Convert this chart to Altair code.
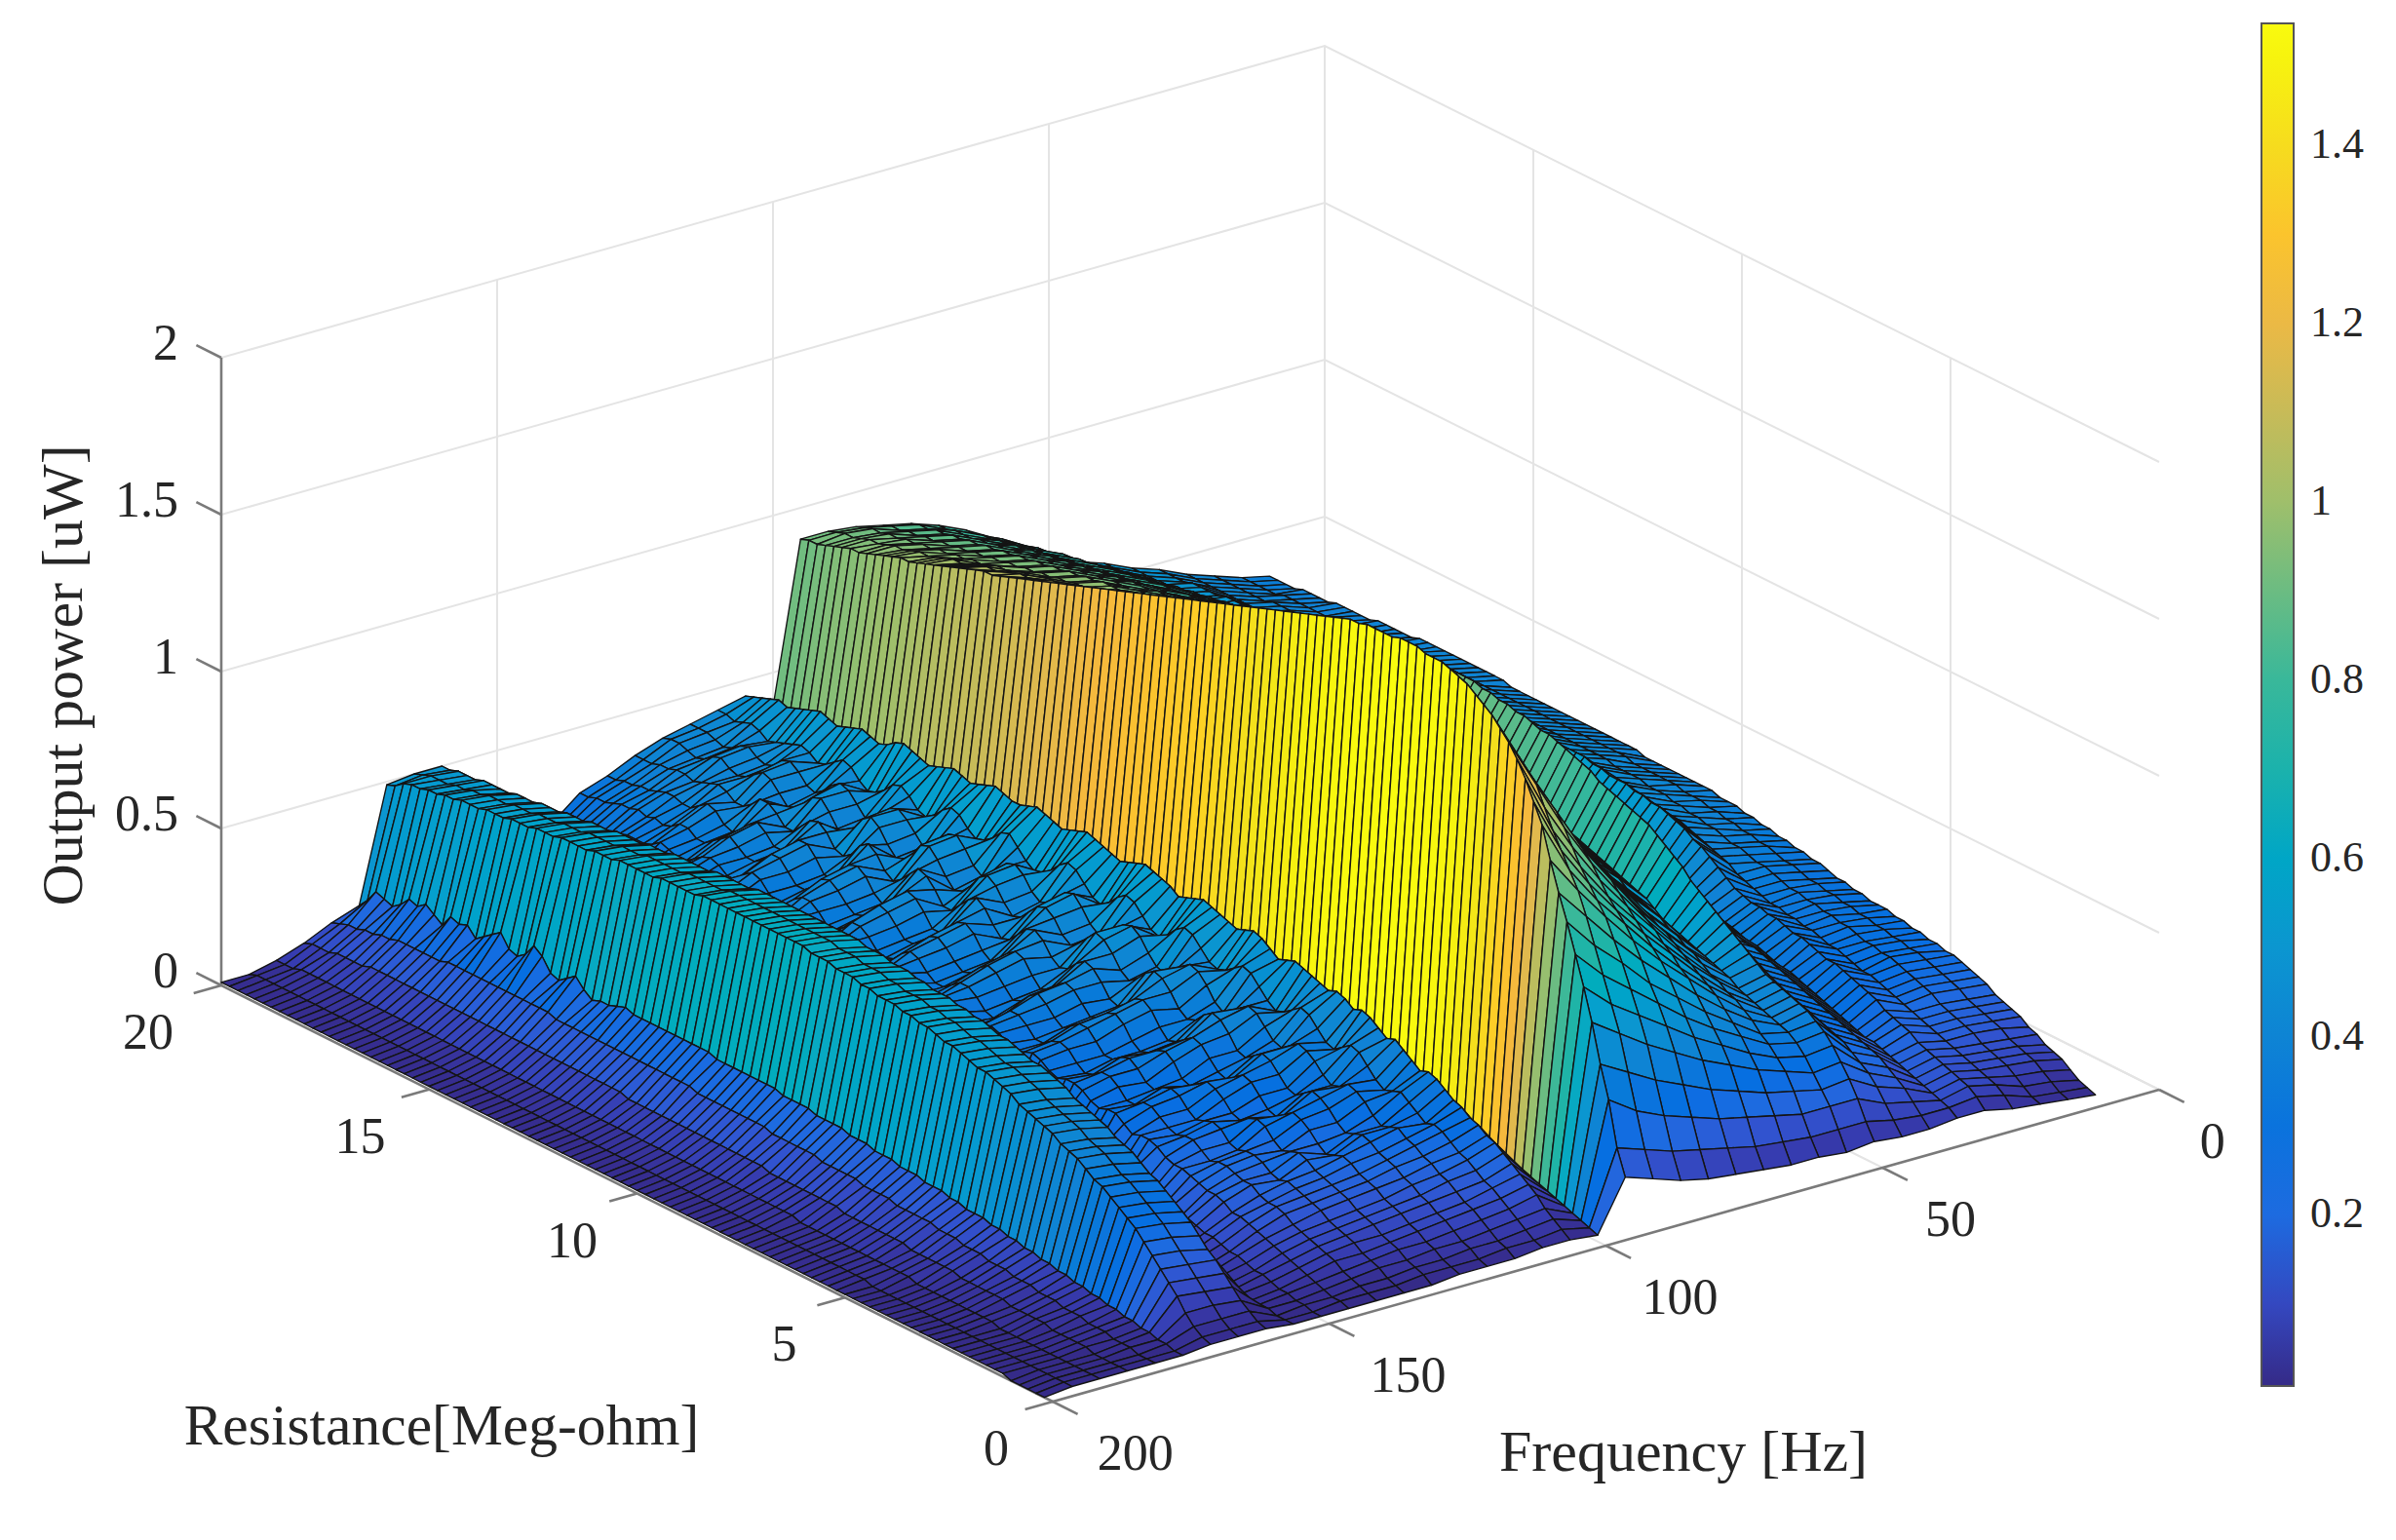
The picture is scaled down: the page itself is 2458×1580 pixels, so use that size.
import altair as alt
import numpy as np
import pandas as pd

alt.data_transformers.disable_max_rows()

# ---- axis values
R_VALUES = [round(0.2*k, 1) for k in range(1, 101)]
F_VALUES = list(range(10, 205, 5))
R_TICKS = [0, 5, 10, 15, 20]
F_TICKS = [0, 50, 100, 150, 200]
Z_TICKS = [0, 0.5, 1, 1.5, 2]
COLORBAR_TICKS = [0.2, 0.4, 0.6, 0.8, 1.0, 1.2, 1.4]

# ---- output power, in hundredths of a microwatt, one list per frequency
P010 = [2,3,4,6,8,9,10,12,13,15, 16,17,18,20,21,22,23,24,24,25, 25,26,26,27,27,28,28,28,29,29, 30,30,31,32,32,33,33,34,34,35, 35,36,36,37,37,37,38,38,38,38, 38,38,38,38,38,39,39,39,39,39, 39,39,39,39,39,39,39,39,39,39, 39,40,40,40,40,40,40,40,40,40, 40,40,39,39,39,39,39,38,38,38, 38,38,37,37,37,37,36,36,36,36]
P015 = [3,4,6,8,10,11,12,13,15,16, 17,18,19,21,22,23,24,25,26,26, 27,27,28,28,29,29,30,30,31,31, 32,32,33,34,34,35,36,36,37,37, 38,38,39,39,40,40,40,41,41,41, 41,41,41,42,42,42,42,42,42,42, 42,42,42,42,42,42,42,42,42,42, 42,42,42,42,42,42,42,42,42,41, 41,41,41,41,40,40,40,40,40,39, 39,39,39,39,39,38,38,38,38,38]
P020 = [4,5,7,9,11,12,13,14,16,17, 18,19,20,22,23,24,25,26,27,27, 28,28,29,30,30,31,31,32,32,33, 33,34,35,36,36,37,38,38,39,40, 40,41,41,42,42,43,43,43,44,44, 44,44,45,45,45,45,45,45,45,45, 45,45,45,45,45,45,45,45,45,45, 45,45,45,45,44,44,44,44,44,44, 44,43,43,43,43,43,42,42,42,42, 42,42,42,41,41,41,41,41,41,41]
P025 = [5,8,10,11,12,13,14,15,16,17, 18,19,20,21,22,23,24,25,25,26, 27,28,28,29,30,30,31,31,32,32, 33,34,35,36,38,39,40,41,42,43, 44,44,45,45,46,46,47,47,47,48, 48,48,48,48,48,49,49,49,49,49, 49,49,49,49,49,49,48,48,48,48, 48,48,48,48,47,47,47,47,47,46, 46,46,46,46,45,45,45,45,45,44, 44,44,44,44,44,44,44,44,44,44]
P030 = [7,10,12,13,14,15,16,17,18,20, 21,22,23,25,26,27,28,29,30,30, 31,32,33,33,34,35,35,36,36,37, 38,40,42,44,46,47,49,50,51,52, 52,53,53,54,54,54,55,55,56,56, 56,56,56,56,56,57,57,57,57,57, 57,57,57,57,56,56,56,56,56,56, 56,56,55,55,55,55,54,54,54,53, 53,53,52,52,52,51,51,51,50,50, 50,50,49,49,49,49,48,48,48,48]
P035 = [7,9,10,11,12,13,14,15,16,17, 18,18,19,20,21,22,23,24,25,26, 27,27,28,29,30,30,31,32,32,33, 34,35,36,37,38,38,39,40,41,42, 43,43,44,44,45,45,46,46,47,47, 47,48,48,48,48,49,49,49,49,50, 50,50,50,50,50,50,50,50,50,50, 50,50,50,50,50,50,50,50,50,50, 50,50,51,51,51,51,51,51,51,51, 51,51,51,51,51,51,51,51,51,51]
P040 = [6,9,12,15,17,19,21,22,23,24, 25,26,27,28,29,30,31,32,33,34, 35,36,36,37,38,39,40,41,42,42, 43,44,45,46,46,47,48,49,50,51, 52,53,54,54,55,56,57,58,58,59, 60,60,60,61,61,61,62,62,62,62, 62,62,62,62,62,62,62,62,62,62, 62,62,61,61,61,61,61,60,60,60, 60,60,60,59,59,59,59,58,58,58, 58,57,57,57,56,56,56,55,55,55]
P045 = [6,10,14,18,21,23,25,27,28,29, 30,31,32,33,34,35,36,37,38,39, 40,41,42,43,44,45,46,47,48,49, 50,51,52,53,54,55,56,57,58,59, 60,61,62,63,64,65,66,67,68,68, 69,70,70,71,71,72,72,73,73,74, 74,75,75,76,76,76,76,76,75,75, 75,74,73,73,72,71,71,70,70,70, 69,69,68,68,67,67,66,66,65,65, 64,64,63,62,62,61,60,60,59,58]
P050 = [7,12,18,23,27,31,34,36,38,39, 40,41,42,43,45,47,49,51,53,55, 57,59,61,64,66,68,70,72,73,74, 75,76,77,78,80,81,82,83,84,85, 85,86,87,87,88,88,89,89,90,90, 90,90,90,90,90,90,90,90,90,90, 89,89,88,87,86,85,84,83,83,82, 81,80,79,78,78,77,76,76,75,74, 74,73,73,72,72,71,71,70,70,69, 69,68,67,67,66,65,65,64,63,62]
P055 = [6,12,18,22,26,30,33,35,36,37, 38,39,40,41,43,44,45,46,47,48, 49,50,51,53,55,56,57,58,59,60, 61,62,63,64,65,66,67,68,69,70, 71,72,73,74,75,75,76,77,77,78, 78,79,79,79,79,80,80,80,80,80, 80,80,80,80,80,80,80,80,80,80, 80,80,80,80,80,80,79,79,79,79, 78,78,78,77,77,76,76,75,75,74, 74,73,73,72,72,71,70,70,69,68]
P060 = [7,12,18,24,29,32,35,37,40,42, 44,45,47,48,50,52,53,55,56,58, 59,60,61,62,64,65,66,67,68,69, 70,71,72,73,75,76,77,78,79,80, 81,81,82,82,83,83,84,84,85,85, 85,85,85,86,86,86,86,86,86,86, 86,86,86,86,86,86,86,86,86,85, 85,85,85,85,85,84,84,84,83,83, 83,82,82,81,81,80,80,79,79,78, 78,77,77,76,76,75,75,74,74,73]
P065 = [7,13,20,26,32,36,40,43,46,49, 51,53,55,57,59,61,62,64,65,67, 68,69,70,71,72,73,74,74,75,76, 76,77,78,79,80,81,82,83,84,85, 85,86,87,88,88,89,90,91,91,92, 92,92,92,92,92,92,92,92,92,92, 92,92,92,92,92,91,91,91,91,91, 91,90,90,90,89,89,89,88,88,88, 87,87,86,86,85,85,84,84,83,83, 82,82,81,81,80,80,79,79,78,78]
P070 = [8,14,22,29,36,41,45,49,53,57, 59,62,64,67,69,71,73,75,76,78, 79,80,81,82,83,84,85,85,86,86, 87,87,88,88,89,90,90,91,91,92, 92,93,93,94,94,95,96,96,97,98, 98,98,98,98,98,98,98,98,97,97, 97,97,97,97,96,96,96,96,95,95, 95,94,94,94,93,93,92,92,92,91, 91,90,90,89,89,88,88,87,87,86, 86,85,85,84,84,83,83,83,82,82]
P075 = [9,16,24,32,40,46,51,56,61,65, 68,71,74,77,80,83,85,87,88,89, 90,91,92,93,94,95,95,96,96,97, 97,98,98,99,99,100,100,101,101,101, 102,102,102,103,103,104,104,104,105,105, 105,105,105,105,104,104,104,103,103,103, 102,102,102,101,101,101,100,100,100,99, 99,99,98,98,97,97,97,96,96,95, 95,94,94,93,93,92,92,91,91,90, 90,89,89,88,88,87,87,86,86,85]
P080 = [10,18,27,36,45,52,58,63,69,74, 78,81,84,88,92,95,97,99,101,102, 103,104,105,106,107,108,108,108,109,109, 109,109,110,110,110,110,111,111,111,111, 111,111,112,112,112,112,112,112,112,112, 111,111,111,110,110,110,109,109,108,108, 107,107,106,106,105,104,104,103,103,102, 102,101,101,100,100,99,99,98,98,97, 97,96,96,95,95,94,94,93,93,92, 92,91,91,90,90,89,89,88,88,87]
P085 = [12,20,30,40,50,58,65,72,78,84, 88,92,96,101,106,110,112,114,116,118, 119,120,121,122,122,123,123,123,123,123, 123,123,123,123,123,123,122,122,122,122, 122,122,121,121,121,121,120,120,120,120, 119,119,118,118,117,117,116,116,115,115, 114,113,113,112,111,110,110,109,108,108, 107,106,106,105,104,103,103,102,101,101, 100,99,99,98,97,97,96,96,95,95, 94,94,93,93,92,92,91,91,90,89]
P090 = [15,23,34,45,56,64,72,80,88,95, 100,105,110,116,122,125,128,130,132,134, 135,136,137,138,138,138,138,138,138,137, 137,136,136,135,135,134,134,133,133,132, 132,131,131,130,130,129,129,128,128,128, 127,126,126,125,124,124,123,122,122,121, 120,119,118,118,117,116,115,114,113,112, 111,110,110,109,108,107,107,106,105,104, 104,103,102,101,101,100,99,98,98,97, 96,96,95,94,94,93,92,92,91,90]
P095 = [18,26,40,50,62,72,81,90,98,107, 117,123,129,134,138,141,144,146,148,150, 151,152,153,153,153,154,154,154,153,153, 153,153,152,152,151,150,149,148,147,146, 145,144,143,142,141,140,139,138,137,136, 135,134,133,132,131,130,129,128,127,126, 125,124,123,122,121,120,119,118,117,116, 115,114,113,112,111,110,109,109,108,107, 106,105,104,103,102,101,100,100,99,98, 97,96,95,95,94,93,92,91,91,90]
P100 = [2,3,4,5,6,7,8,9,10,11, 12,13,14,15,16,17,18,19,20,21, 22,23,23,24,25,26,26,27,28,28, 29,29,30,30,31,31,32,32,33,33, 34,34,35,35,35,36,36,36,37,37, 37,37,38,38,38,38,38,39,39,39, 39,39,39,39,39,39,39,39,39,39, 39,39,39,39,39,39,39,39,39,39, 39,39,39,39,39,39,39,39,39,39, 39,39,39,39,39,39,39,39,39,39]
P105 = [3,5,7,9,12,14,16,18,20,22, 23,25,26,28,29,31,33,34,33,35, 37,39,38,40,42,43,42,44,45,44, 45,46,47,48,47,46,48,50,51,50, 49,50,51,52,53,52,51,50,52,53, 54,55,54,53,52,53,54,55,56,55, 54,53,54,55,56,55,54,54,55,56, 55,54,53,54,55,54,53,52,53,54, 55,54,52,51,52,53,52,51,50,51, 52,51,50,49,48,49,48,47,46,45]
P110 = [3,4,6,8,10,12,14,15,17,19, 20,22,24,25,24,26,28,30,29,28, 30,33,36,37,35,33,34,37,40,41, 39,37,36,38,41,44,45,43,41,40, 41,44,47,48,46,43,41,42,45,48, 49,47,44,42,43,46,49,50,48,45, 43,42,44,47,50,49,46,44,43,45, 48,49,47,44,42,43,46,48,47,44, 42,41,43,46,47,45,43,42,44,45, 44,43,42,41,43,44,43,42,43,43]
P115 = [2,4,5,7,9,11,12,14,16,17, 19,20,22,23,25,24,23,25,28,30, 31,29,28,30,33,35,36,34,32,33, 36,39,40,38,35,34,36,40,43,44, 42,39,37,38,41,45,47,46,43,40, 39,41,45,48,47,44,41,40,42,46, 48,47,44,41,39,41,45,48,47,43, 40,39,42,45,47,46,43,40,39,42, 45,46,44,41,39,40,43,45,44,41, 40,41,43,42,40,39,40,41,41,41]
P120 = [2,3,5,6,8,10,11,13,14,16, 17,19,20,21,23,24,23,22,24,27, 29,30,28,26,27,30,33,34,32,30, 31,35,38,39,37,34,33,35,39,42, 43,41,38,36,38,42,45,46,43,40, 38,40,44,46,45,42,39,38,41,45, 47,45,41,38,37,40,44,47,46,42, 39,38,41,45,47,45,41,38,38,42, 45,44,41,38,37,40,43,44,42,40, 39,40,42,41,39,38,39,40,40,39]
P125 = [2,3,4,6,7,9,10,12,13,14, 16,17,18,20,21,20,19,21,24,26, 27,25,23,24,27,30,31,29,27,28, 31,34,35,33,31,30,33,37,39,38, 35,33,34,38,41,42,40,37,36,38, 42,44,43,40,37,36,39,43,45,43, 40,37,37,41,44,45,42,39,37,39, 43,45,43,39,37,38,42,44,43,40, 37,37,40,42,42,39,37,37,39,40, 39,38,37,38,38,37,37,36,36,36]
P130 = [1,3,4,5,7,8,9,11,12,13, 15,16,17,18,19,21,22,21,20,22, 25,26,25,23,24,27,29,30,28,26, 27,31,33,32,30,29,31,35,37,36, 33,32,35,38,39,37,34,33,36,40, 41,39,36,34,36,40,42,41,38,35, 35,39,42,43,40,37,35,37,41,43, 42,38,35,35,39,42,42,39,36,36, 39,41,39,36,34,35,38,39,37,35, 35,36,36,35,34,34,33,33,32,32]
P135 = [1,2,3,5,6,7,9,10,11,12, 14,15,16,17,18,17,18,20,21,21, 20,21,24,25,24,23,25,28,29,28, 26,27,30,32,31,29,29,32,35,35, 33,31,33,36,38,36,33,32,35,38, 39,37,34,33,35,38,40,39,36,34, 34,37,40,41,38,35,34,36,39,41, 40,36,34,34,37,40,40,37,35,35, 37,39,37,35,33,33,35,35,33,32, 33,32,33,32,32,31,30,30,29,29]
P140 = [1,2,3,4,5,7,8,9,10,11, 12,14,15,15,16,18,18,19,20,20, 19,21,23,23,22,23,25,27,27,25, 25,28,30,30,28,27,29,32,33,32, 30,30,33,35,35,32,30,31,34,36, 36,34,32,32,34,37,38,36,33,32, 33,36,38,38,35,33,33,36,38,38, 36,33,32,34,37,38,36,33,33,35, 36,35,33,31,31,32,33,31,30,30, 30,29,28,27,27,26,25,24,23,22]
P145 = [1,2,2,3,4,5,6,7,8,9, 10,11,12,13,13,15,16,16,17,18, 19,19,20,22,23,23,22,24,26,26, 25,26,28,29,29,28,29,31,32,31, 30,31,33,34,33,31,31,33,35,35, 33,32,32,34,36,36,34,33,33,35, 36,36,34,33,33,35,37,36,34,33, 34,36,36,34,33,34,36,35,33,32, 33,33,31,30,29,28,27,26,25,24, 24,24,23,23,22,21,20,19,18,17]
P150 = [1,1,2,2,3,3,4,5,5,6, 7,7,8,9,9,10,11,10,12,11, 12,11,12,16,12,12,13,17,13,13, 13,14,19,14,13,14,14,20,14,14, 15,21,15,14,15,15,22,15,14,15, 16,15,15,23,16,15,15,16,22,15, 15,16,15,15,24,16,15,16,15,21, 15,16,15,22,16,15,15,16,23,16, 15,15,17,22,16,15,15,20,15,15, 14,17,14,14,16,14,13,13,13,12]
P155 = [1,1,1,2,2,2,3,3,3,4, 4,4,5,5,5,6,6,6,7,7, 7,7,8,8,8,9,9,9,10,10, 10,10,10,11,11,11,11,12,12,12, 12,12,12,12,13,13,13,13,13,13, 13,13,13,13,13,13,13,13,13,13, 13,13,13,13,13,13,13,13,13,13, 13,13,13,13,13,13,13,13,13,13, 13,13,13,13,13,12,12,12,12,12, 12,12,12,11,11,11,11,10,10,10]
P160 = [2,3,5,7,10,13,16,18,21,24, 26,28,30,32,33,35,37,38,39,41, 42,43,44,45,47,48,49,50,50,51, 52,53,53,54,55,55,56,56,57,57, 57,58,58,59,59,59,60,60,60,61, 61,61,61,61,61,61,61,61,61,61, 61,61,60,60,60,60,60,59,59,59, 59,59,58,58,58,57,57,57,57,56, 56,56,55,55,55,54,54,54,53,53, 53,52,52,52,52,51,51,51,50,50]
P165 = [2,3,5,8,11,14,17,20,23,26, 28,30,32,34,35,37,39,40,41,43, 44,45,46,47,49,50,51,52,52,53, 54,55,55,56,57,57,58,58,59,59, 59,60,60,61,61,61,62,62,62,63, 63,63,63,63,63,63,63,63,63,63, 63,63,62,62,62,62,62,61,61,61, 61,61,60,60,60,59,59,59,59,58, 58,58,57,57,57,56,56,56,55,55, 55,54,54,53,53,52,52,52,51,50]
P170 = [2,3,5,8,12,15,18,21,24,27, 29,31,33,35,36,38,40,41,42,44, 45,46,47,48,50,51,52,53,53,54, 55,56,56,57,58,58,59,59,60,60, 60,61,61,62,62,62,63,63,63,64, 64,64,64,64,64,64,64,64,64,64, 64,64,63,63,63,63,63,62,62,62, 62,62,61,61,61,60,60,60,60,59, 59,59,58,58,58,57,57,57,56,56, 56,55,55,54,54,53,53,52,50,49]
P175 = [1,1,2,2,3,3,4,4,5,5, 6,6,7,7,8,8,9,9,10,10, 11,11,12,12,13,13,13,14,14,15, 15,15,16,16,16,17,17,17,18,18, 18,19,19,19,19,20,20,20,20,21, 21,21,21,21,21,21,21,22,22,22, 22,22,22,22,22,22,22,23,22,21, 21,20,22,25,23,21,22,26,28,24, 22,23,27,25,23,21,24,23,24,20, 22,24,22,23,20,18,19,20,16,13]
P180 = [1,1,1,2,2,2,3,3,3,4, 4,4,5,5,5,6,6,6,7,7, 7,8,8,8,9,9,9,10,10,10, 10,10,11,11,11,11,12,12,12,12, 12,13,13,13,13,13,13,14,14,14, 14,14,14,14,14,14,15,15,15,15, 15,15,15,15,15,15,15,15,15,15, 15,15,15,16,16,16,16,16,16,16, 16,16,16,16,16,16,15,15,15,15, 15,15,14,14,13,13,12,12,11,10]
P185 = [1,1,1,1,1,2,2,2,2,2, 3,3,3,3,3,4,4,4,4,4, 4,5,5,5,5,5,5,6,6,6, 6,6,6,6,6,7,7,7,7,7, 7,7,7,7,8,8,8,8,8,8, 8,8,8,8,8,8,8,8,8,8, 8,9,9,9,9,9,9,9,9,9, 9,9,9,9,9,9,9,9,9,9, 9,9,9,9,9,9,9,9,9,9, 9,9,8,8,8,8,7,7,7,6]
P190 = [1,1,1,1,1,1,1,1,1,1, 1,1,1,2,2,2,2,2,2,2, 2,2,2,3,3,3,3,3,3,3, 3,3,3,3,3,3,3,4,4,4, 4,4,4,4,4,4,4,4,4,4, 4,4,4,4,4,4,4,4,4,4, 4,4,4,4,4,4,4,4,4,4, 4,4,4,4,4,4,4,4,4,4, 4,4,4,4,4,4,4,4,4,4, 4,4,4,4,4,4,4,3,3,3]
P195 = [1,1,1,1,1,1,1,1,1,1, 1,1,1,1,1,1,1,1,1,1, 1,1,1,1,1,2,2,2,2,2, 2,2,2,2,2,2,2,2,2,2, 2,2,2,2,2,2,2,2,2,2, 2,2,2,2,2,2,2,2,2,2, 2,2,2,2,2,2,2,2,2,2, 2,2,2,2,2,2,2,2,2,2, 2,2,2,2,2,2,2,2,2,2, 2,2,2,2,2,2,2,2,2,1]
P200 = [0,0,0,0,0,1,1,1,1,1, 1,1,1,1,1,1,1,1,1,1, 1,1,1,1,1,1,1,1,1,1, 1,1,1,1,1,1,1,1,1,1, 1,1,1,1,1,1,1,1,1,1, 1,1,1,1,1,1,1,1,1,1, 1,1,1,1,1,1,1,1,1,1, 1,1,1,1,1,1,1,1,1,1, 1,1,1,1,1,1,1,1,1,1, 1,1,1,1,1,1,1,1,1,1]
ROWS = [P010,P015,P020,P025,P030,P035,P040,P045,P050,P055,P060,P065,P070,P075,P080,P085,P090,P095,P100,P105,
        P110,P115,P120,P125,P130,P135,P140,P145,P150,P155,P160,P165,P170,P175,P180,P185,P190,P195,P200]

PARULA = ["#352a87","#363cb0","#3153cf","#1f6ae0","#066ee2","#0d75dc","#1181d5","#1089d2","#0c96d0","#06a0cd","#07a9c2",
          "#19b1b0","#25b5a2","#3ab89a","#55bb8c","#7abd7c","#9abf6e","#b3bd63","#cbbb57","#e1b94d","#f5b93d","#fbc22e",
          "#fed025","#f3e01c","#f6f00f","#f9fb0e"]
C_MIN, C_MAX = 0.008, 1.537

# ---- view: where the axis box corners fall on the page (no perspective: 1 uW is the same height everywhere)
PC, PD, PA, PB = np.array((2215,1118.)), np.array((1359,691.)), np.array((227,1011.)), np.array((1080,1438.))
PIXELS_PER_UW = 322.0

def project(R, F, Z):
    r, f = R/20, F/200
    p = (1-r)*(1-f)*PC + r*(1-f)*PD + r*f*PA + (1-r)*f*PB
    return round(float(p[0]), 1), round(float(p[1] - Z*PIXELS_PER_UW), 1)

# ---- surface cells, far to near
Zg = np.zeros((len(F_VALUES), len(R_VALUES)))
for j, row in enumerate(ROWS):
    row = (row + [row[-1]]*len(R_VALUES))[:len(R_VALUES)]
    Zg[j] = np.array(row)/100.0

recs = []
cell = 0
for j in range(len(F_VALUES)-1):
    for i in range(len(R_VALUES)-2, -1, -1):
        c = Zg[j, i]
        for k, (jj, ii) in enumerate([(j,i),(j,i+1),(j+1,i+1),(j+1,i)]):
            x, y = project(R_VALUES[ii], F_VALUES[jj], Zg[jj, ii])
            recs.append(dict(cell=cell, k=k, x=x, y=y, c=round(float(c), 3)))
        cell += 1
surf = pd.DataFrame(recs)

# ---- grid, axes, ticks
def seg_rows(store, name, pts):
    gid = len(store)
    for k, (R, F, Z) in enumerate(pts):
        x, y = project(R, F, Z)
        store.append(dict(id=f"{name}{gid}", k=k, x=x, y=y))

grid = []
for z in Z_TICKS:
    seg_rows(grid, "z", [(20,200,z),(20,0,z),(0,0,z)])
for f in F_TICKS[:-1]:
    seg_rows(grid, "f", [(0,f,0),(20,f,0),(20,f,2)])
for r in R_TICKS[1:]:
    seg_rows(grid, "r", [(r,200,0),(r,0,0),(r,0,2)])
grid = pd.DataFrame(grid)

axes = []
seg_rows(axes, "a", [(20,200,2),(20,200,0),(0,200,0),(0,0,0)])
for z in Z_TICKS:
    seg_rows(axes, "tz", [(20,200,z),(20.6,200,z)])
for r in R_TICKS:
    seg_rows(axes, "tr", [(r,200,0),(r,205,0)])
for f in F_TICKS:
    seg_rows(axes, "tf", [(0,f,0),(-0.6,f,0)])
axes = pd.DataFrame(axes)

zl = pd.DataFrame([dict(x=project(20,200,z)[0], y=project(20,200,z)[1], t=f"{z:g}") for z in Z_TICKS])
rl = pd.DataFrame([dict(x=project(r,200,0)[0]-75+17*(1-r/20), y=project(r,200,0)[1]+49, t=f"{r:g}") for r in R_TICKS])
fl = pd.DataFrame([dict(x=project(0,f,0)[0]+(35+19*(f/200)**0.5)*1.5676, y=project(0,f,0)[1]+54, t=f"{f:g}") for f in F_TICKS])

xs = alt.Scale(domain=[8, 2448])
ys = alt.Scale(domain=[1568, 8])
X = alt.X("x:Q", scale=xs, axis=None)
Y = alt.Y("y:Q", scale=ys, axis=None)

grid_l = alt.Chart(grid).mark_line(color="#e4e4e4", strokeWidth=2).encode(X, Y, detail="id:N", order="k:Q")
axes_l = alt.Chart(axes).mark_line(color="#7a7a7a", strokeWidth=2.6).encode(X, Y, detail="id:N", order="k:Q")

domain = [C_MIN + (C_MAX-C_MIN)*i/(len(PARULA)-1) for i in range(len(PARULA))]
surf_l = alt.Chart(surf).mark_line(stroke="#141414", strokeWidth=1.4, interpolate="linear-closed", strokeJoin="round").encode(
    X, Y, detail="cell:N", order="k:Q",
    fill=alt.Fill("c:Q", scale=alt.Scale(domain=domain, range=PARULA), legend=alt.Legend(
        orient="none", legendX=2312, legendY=16, title=None, direction="vertical",
        gradientLength=1398, gradientThickness=33, gradientStrokeColor="#555555", gradientStrokeWidth=2,
        values=COLORBAR_TICKS, labelFont="Liberation Serif", labelFontSize=44, labelColor="#262626",
        labelOffset=17, labelOverlap=False, labelExpr="datum.value==1?'1':format(datum.value,'.1f')")))

TXT = dict(font="Liberation Serif", color="#262626")
z_t = alt.Chart(zl).mark_text(align="right", baseline="middle", fontSize=52, dx=-44, dy=-14, **TXT).encode(X, Y, text="t:N")
r_t = alt.Chart(rl).mark_text(align="center", baseline="middle", fontSize=52, **TXT).encode(X, Y, text="t:N")
f_t = alt.Chart(fl).mark_text(align="center", baseline="middle", fontSize=52, **TXT).encode(X, Y, text="t:N")

titles = pd.DataFrame([dict(x=453, y=1464, t="Resistance[Meg-ohm]", a=0, s=59.5),
                       dict(x=1727, y=1491, t="Frequency [Hz]", a=0, s=60)])
t1 = alt.Chart(titles).mark_text(align="center", baseline="middle", **TXT).encode(
    X, Y, text="t:N", size=alt.Size("s:Q", scale=None, legend=None))
t2 = alt.Chart(pd.DataFrame([dict(x=66, y=693, t="Output power [uW]")])).mark_text(
    align="center", baseline="middle", fontSize=60, angle=270, **TXT).encode(X, Y, text="t:N")

BAR_TOP, BAR_BOTTOM = 24, 1422
ct = pd.DataFrame([dict(x=2337, x2=2352, y=BAR_BOTTOM-(v-C_MIN)/(C_MAX-C_MIN)*(BAR_BOTTOM-BAR_TOP)) for v in COLORBAR_TICKS])
ticks = alt.Chart(ct).mark_rule(color="#555555", strokeWidth=2).encode(X, alt.X2("x2:Q"), Y)

chart = alt.layer(grid_l, axes_l, surf_l, z_t, r_t, f_t, t1, t2, ticks).properties(
    width=2440, height=1560, padding=0, autosize=alt.AutoSizeParams(type="none")
).configure_view(stroke=None)

chart.save("out.html", embed_options={"renderer": "svg", "actions": False})
